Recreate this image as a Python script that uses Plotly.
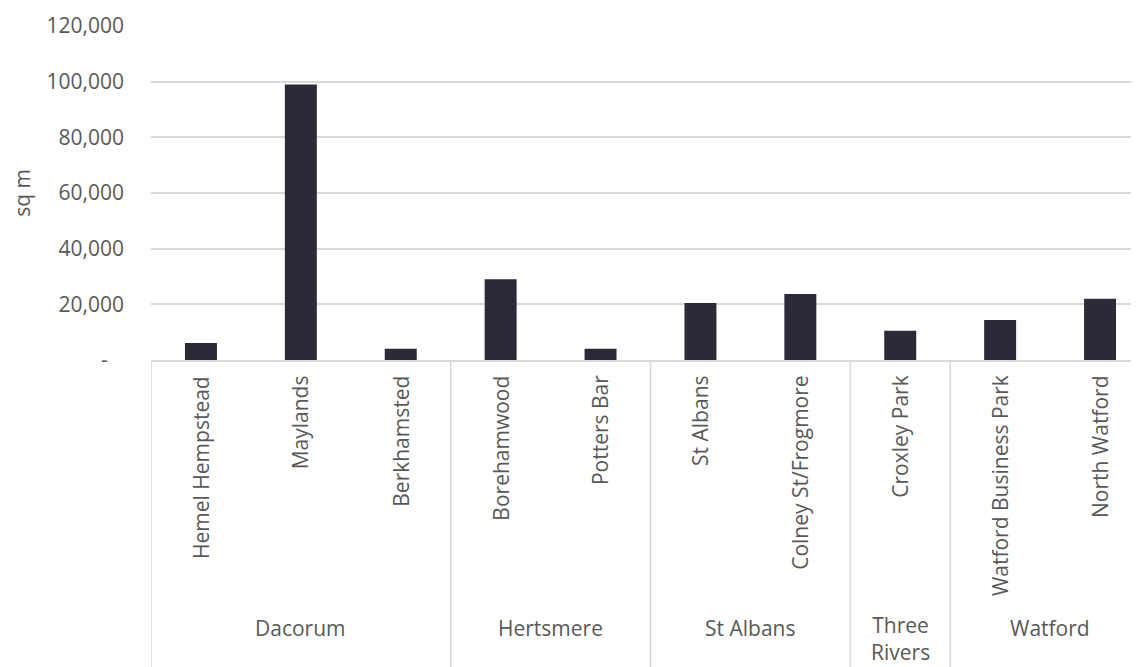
import plotly.graph_objects as go

districts = ["Dacorum", "Dacorum", "Dacorum", "Hertsmere", "Hertsmere",
             "St Albans", "St Albans", "Three Rivers", "Watford", "Watford"]
locations = ["Hemel Hempstead", "Maylands", "Berkhamsted", "Borehamwood", "Potters Bar",
             "St Albans", "Colney St/Frogmore", "Croxley Park", "Watford Business Park", "North Watford"]
floorspace = [6100, 99000, 4000, 29000, 4000, 20500, 23700, 10500, 14400, 22000]
group_labels = ["Dacorum", "Hertsmere", "St Albans", "Three<br>Rivers", "Watford"]
y_ticks = [0, 20000, 40000, 60000, 80000, 100000, 120000]
y_ticktext = ["-\u00a0\u00a0\u00a0", "20,000", "40,000", "60,000", "80,000", "100,000", "120,000"]

FONT = "Open Sans"
TXT = "#595959"
GRID = "#d9d9d9"
FS = 21

# page has an 8px body margin; figure sized to fit the window
OFF = 8
W, H = 1139 - OFF, 667 - OFF
top = 26 - OFF
plot_bottom = 360.5 - OFF
bottom = H - plot_bottom
plot_h = plot_bottom - top

def py(page_pix):
    return (plot_bottom - (page_pix - OFF)) / plot_h

xs = list(range(len(locations)))
fig = go.Figure(go.Bar(x=xs, y=floorspace, marker=dict(color="#2b2a36", line=dict(width=0)),
                       width=0.32))

annotations = []
for i, name in enumerate(locations):
    annotations.append(dict(x=i, y=py(374), xref="x", yref="paper", text=name, textangle=-90,
                            showarrow=False, xanchor="center", yanchor="top",
                            font=dict(family=FONT, size=FS, color=TXT)))

groups = []
for i, d in enumerate(districts):
    if not groups or groups[-1][0] != d:
        groups.append([d, i, i])
    else:
        groups[-1][2] = i

shapes = []
for gi, (d, s, e) in enumerate(groups):
    label = group_labels[gi]
    two = "<br>" in label
    annotations.append(dict(x=(s + e) / 2, y=py(639 if two else 629), xref="x", yref="paper",
                            text=label, showarrow=False, xanchor="center", yanchor="middle",
                            font=dict(family=FONT, size=FS, color=TXT)))
    shapes.append(dict(type="line", xref="x", yref="paper", x0=s - 0.5, x1=s - 0.5,
                       y0=0, y1=py(680), line=dict(color=GRID, width=1.5)))

fig.update_layout(
    width=W, height=H,
    margin=dict(l=151 - OFF, r=0, t=top, b=bottom),
    paper_bgcolor="white", plot_bgcolor="white",
    showlegend=False,
    annotations=annotations,
    shapes=shapes,
    xaxis=dict(range=[-0.5, 9.39], showticklabels=False, ticks="", showgrid=False,
               zeroline=False, showline=True, linecolor=GRID, linewidth=1.5),
    yaxis=dict(range=[0, 120000], tickvals=y_ticks, ticktext=y_ticktext,
               showgrid=True, gridcolor=GRID, gridwidth=1.5, zeroline=False,
               showline=False, ticks="", ticklabelstandoff=26,
               tickfont=dict(family=FONT, size=FS, color=TXT),
               title=dict(text="sq m", standoff=14, font=dict(family=FONT, size=FS, color=TXT))),
)

fig.write_html("out.html")
